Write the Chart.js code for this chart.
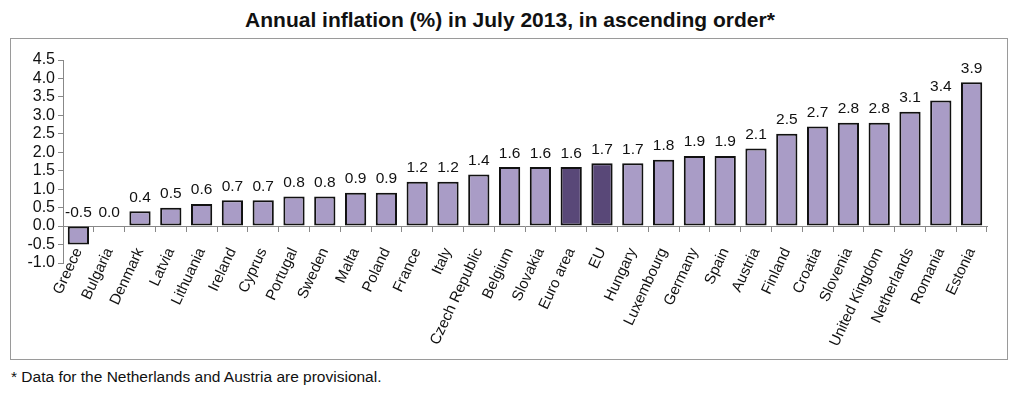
<!DOCTYPE html>
<html>
<head>
<meta charset="utf-8">
<script src="https://cdn.jsdelivr.net/npm/chart.js@4.4.1/dist/chart.umd.min.js"></script>
<style>
  html, body { margin: 0; padding: 0; background: #fff; }
  body { width: 1024px; height: 399px; position: relative; overflow: hidden; font-family: "Liberation Sans", Arial, sans-serif; }
  #title { position: absolute; left: 0; top: 8px; width: 1020px; text-align: center; font-weight: bold; font-size: 21px; color: #111; }
  #frame { position: absolute; left: 10px; top: 38px; width: 996px; height: 320px; border: 1px solid #9a9a9a; }
  #note { position: absolute; left: 11px; top: 368px; font-size: 15.5px; color: #111; }
</style>
</head>
<body>
<div id="title">Annual inflation (%) in July 2013, in ascending order*</div>
<div id="frame"><canvas id="chart-inflation" width="996" height="320"></canvas></div>
<div id="note">* Data for the Netherlands and Austria are provisional.</div>
<script>
// categories and values
const countries = ['Greece', 'Bulgaria', 'Denmark', 'Latvia', 'Lithuania', 'Ireland', 'Cyprus', 'Portugal',
  'Sweden', 'Malta', 'Poland', 'France', 'Italy', 'Czech Republic', 'Belgium', 'Slovakia', 'Euro area', 'EU',
  'Hungary', 'Luxembourg', 'Germany', 'Spain', 'Austria', 'Finland', 'Croatia', 'Slovenia', 'United Kingdom',
  'Netherlands', 'Romania', 'Estonia'];
const inflation = [-0.5, 0.0, 0.4, 0.5, 0.6, 0.7, 0.7, 0.8, 0.8, 0.9, 0.9, 1.2, 1.2, 1.4, 1.6, 1.6, 1.6, 1.7,
  1.7, 1.8, 1.9, 1.9, 2.1, 2.5, 2.7, 2.8, 2.8, 3.1, 3.4, 3.9];
const aggregates = ['Euro area', 'EU'];
const yTicks = [-1.0, -0.5, 0.0, 0.5, 1.0, 1.5, 2.0, 2.5, 3.0, 3.5, 4.0, 4.5];

const LIGHT = '#a99cc6';
const DARK = '#594878';
const FONT = '"Liberation Sans", Arial, sans-serif';

// Draw the value above each bar (above the zero line for negatives)
const valueLabels = {
  id: 'valueLabels',
  afterDatasetsDraw(chart) {
    const { ctx } = chart;
    const meta = chart.getDatasetMeta(0);
    const y = chart.scales.y;
    ctx.save();
    ctx.font = '15.5px ' + FONT;
    ctx.fillStyle = '#111';
    ctx.textAlign = 'center';
    ctx.textBaseline = 'bottom';
    meta.data.forEach((bar, i) => {
      const v = inflation[i];
      const top = y.getPixelForValue(Math.max(v, 0));
      ctx.fillText(v.toFixed(1), bar.x, top - 6);
    });
    ctx.restore();
  }
};

new Chart(document.getElementById('chart-inflation'), {
  type: 'bar',
  data: {
    labels: countries,
    datasets: [{
      data: inflation,
      backgroundColor: countries.map(c => aggregates.includes(c) ? DARK : LIGHT),
      borderColor: '#111',
      borderWidth: 2,
      borderSkipped: false,
      categoryPercentage: 1,
      barPercentage: 0.69
    }]
  },
  options: {
    responsive: false,
    animation: false,
    layout: { padding: { top: 21, right: 20, bottom: 96, left: 0 } },
    plugins: {
      legend: { display: false },
      tooltip: { enabled: false }
    },
    scales: {
      y: {
        min: -1.0,
        max: 4.5,
        afterFit(scale) { scale.width = 52; },
        afterBuildTicks(scale) { scale.ticks = yTicks.map(v => ({ value: v })); },
        ticks: {
          color: '#111',
          font: { family: FONT, size: 16 },
          padding: 3,
          autoSkip: false,
          callback: v => v.toFixed(1)
        },
        grid: { display: true, drawOnChartArea: false, drawTicks: true, tickLength: 5, color: '#888' },
        border: { color: '#888', width: 1 }
      },
      x: {
        position: { y: 0 },
        ticks: {
          color: '#111',
          font: { family: FONT, size: 15 },
          minRotation: 65,
          maxRotation: 65,
          autoSkip: false,
          padding: 14
        },
        grid: { offset: true, drawOnChartArea: false, drawTicks: true, tickLength: 5, color: '#888' },
        border: { color: '#888', width: 1 }
      }
    }
  },
  plugins: [valueLabels]
});
</script>
</body>
</html>
